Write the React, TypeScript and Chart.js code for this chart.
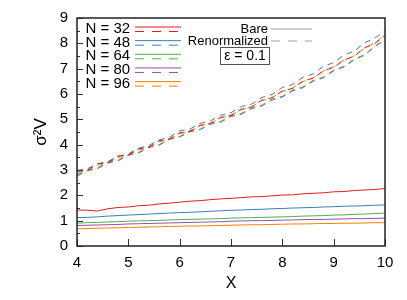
import React, { useEffect, useRef } from 'react';
import { Chart, registerables } from 'chart.js';

Chart.register(...registerables);

// ---- data ----
const X = [4.0, 4.2, 4.4, 4.6, 4.8, 5.0, 5.2, 5.4, 5.6, 5.8, 6.0, 6.2, 6.4, 6.6, 6.8, 7.0, 7.2, 7.4, 7.6, 7.8, 8.0, 8.2, 8.4, 8.6, 8.8, 9.0, 9.2, 9.4, 9.6, 9.8, 10.0];

const N_LABELS = ['N = 32', 'N = 48', 'N = 64', 'N = 80', 'N = 96'];
const COLORS = ['#e41a1c', '#377eb8', '#4daf4a', '#984ea3', '#ff7f00'];

// Bare (solid)
const BARE_32 = [1.42, 1.41, 1.38, 1.47, 1.52, 1.54, 1.59, 1.61, 1.66, 1.69, 1.73, 1.77, 1.79, 1.83, 1.86, 1.88, 1.91, 1.94, 1.95, 1.98, 2.01, 2.02, 2.06, 2.08, 2.10, 2.14, 2.15, 2.19, 2.21, 2.23, 2.27];
const BARE_48 = [1.12, 1.13, 1.15, 1.18, 1.20, 1.22, 1.24, 1.26, 1.28, 1.30, 1.32, 1.33, 1.35, 1.37, 1.39, 1.41, 1.42, 1.44, 1.45, 1.47, 1.48, 1.50, 1.51, 1.52, 1.54, 1.55, 1.57, 1.58, 1.59, 1.61, 1.62];
const BARE_64 = [0.90, 0.92, 0.93, 0.95, 0.96, 0.98, 0.99, 1.00, 1.01, 1.03, 1.04, 1.05, 1.06, 1.07, 1.08, 1.10, 1.11, 1.12, 1.13, 1.14, 1.15, 1.16, 1.18, 1.19, 1.20, 1.22, 1.23, 1.25, 1.26, 1.28, 1.30];
const BARE_80 = [0.81, 0.82, 0.83, 0.84, 0.85, 0.87, 0.88, 0.89, 0.90, 0.91, 0.92, 0.93, 0.94, 0.95, 0.96, 0.98, 0.99, 1.00, 1.00, 1.01, 1.02, 1.03, 1.04, 1.05, 1.05, 1.06, 1.07, 1.08, 1.08, 1.09, 1.10];
const BARE_96 = [0.68, 0.69, 0.70, 0.71, 0.72, 0.73, 0.74, 0.75, 0.76, 0.77, 0.78, 0.79, 0.79, 0.80, 0.81, 0.82, 0.83, 0.84, 0.84, 0.85, 0.86, 0.87, 0.87, 0.88, 0.89, 0.89, 0.90, 0.90, 0.91, 0.92, 0.92];

// Renormalized (dashed)
const REN_32 = [2.95, 2.99, 3.25, 3.28, 3.55, 3.60, 3.84, 3.90, 4.16, 4.22, 4.47, 4.53, 4.77, 4.84, 5.08, 5.16, 5.40, 5.49, 5.76, 5.85, 6.12, 6.22, 6.51, 6.62, 6.92, 7.05, 7.34, 7.49, 7.82, 7.99, 8.32];
const REN_48 = [2.98, 3.05, 3.24, 3.34, 3.54, 3.64, 3.86, 3.97, 4.19, 4.30, 4.54, 4.62, 4.84, 4.94, 5.16, 5.26, 5.50, 5.60, 5.86, 5.98, 6.26, 6.37, 6.66, 6.79, 7.09, 7.24, 7.54, 7.69, 8.02, 8.20, 8.50];
const REN_64 = [2.80, 2.99, 3.08, 3.31, 3.38, 3.61, 3.69, 3.93, 4.00, 4.24, 4.32, 4.55, 4.61, 4.84, 4.92, 5.14, 5.23, 5.46, 5.56, 5.80, 5.91, 6.16, 6.28, 6.54, 6.67, 6.95, 7.09, 7.38, 7.55, 7.89, 8.15];
const REN_80 = [2.76, 2.97, 3.05, 3.28, 3.36, 3.58, 3.67, 3.89, 3.98, 4.21, 4.30, 4.51, 4.59, 4.81, 4.89, 5.11, 5.20, 5.42, 5.53, 5.76, 5.88, 6.12, 6.25, 6.50, 6.64, 6.91, 7.07, 7.35, 7.53, 7.87, 8.12];
const REN_96 = [2.87, 2.98, 3.18, 3.29, 3.48, 3.59, 3.79, 3.91, 4.11, 4.23, 4.43, 4.54, 4.74, 4.85, 5.05, 5.16, 5.38, 5.50, 5.73, 5.86, 6.10, 6.24, 6.49, 6.64, 6.91, 7.07, 7.34, 7.51, 7.81, 8.02, 8.35];

const BARE = [BARE_32, BARE_48, BARE_64, BARE_80, BARE_96];
const REN = [REN_32, REN_48, REN_64, REN_80, REN_96];

const X_TICKS = [4, 5, 6, 7, 8, 9, 10];
const Y_TICKS = [0, 1, 2, 3, 4, 5, 6, 7, 8, 9];
const STYLE_LABELS = ['Bare', 'Renormalized'];
const EPS_LABEL = 'ε = 0.1';
const X_TITLE = 'X';
const Y_TITLE = 'σ²V';

const FONT = '"Liberation Sans", Arial, sans-serif';
const DASH = [6, 5];

const decor = {
  id: 'decor',
  afterDatasetsDraw(chart: any) {
    const { ctx, chartArea: a, scales } = chart;
    const xs = scales.x;
    const ys = scales.y;
    ctx.save();
    // inward tick marks
    ctx.strokeStyle = '#333';
    ctx.lineWidth = 1;
    ctx.beginPath();
    X_TICKS.forEach((v) => {
      const px = Math.round(xs.getPixelForValue(v)) + 0.5;
      ctx.moveTo(px, a.bottom);
      ctx.lineTo(px, a.bottom - 7);
    });
    Y_TICKS.forEach((v) => {
      const py = Math.round(ys.getPixelForValue(v)) + 0.5;
      ctx.moveTo(a.left, py);
      ctx.lineTo(a.left + 6, py);
      if (v < 9) {
        const pm = Math.round(ys.getPixelForValue(v + 0.5)) + 0.5;
        ctx.moveTo(a.left, pm);
        ctx.lineTo(a.left + 3, pm);
      }
    });
    ctx.stroke();
    // frame
    ctx.strokeStyle = '#222';
    ctx.lineWidth = 1.5;
    ctx.strokeRect(a.left, a.top, a.right - a.left, a.bottom - a.top);

    // legend: N labels
    ctx.fillStyle = '#000';
    ctx.textBaseline = 'middle';
    N_LABELS.forEach((lab, i) => {
      const cy = a.top + 11 + 13.65 * i;
      ctx.font = `15px ${FONT}`;
      ctx.textAlign = 'left';
      ctx.fillText(lab, a.left + 8.5, cy);
      ctx.strokeStyle = COLORS[i];
      ctx.lineWidth = 1;
      ctx.setLineDash([]);
      ctx.beginPath();
      ctx.moveTo(a.left + 58, cy - 2);
      ctx.lineTo(a.left + 104, cy - 2);
      ctx.stroke();
      ctx.setLineDash([9, 8]);
      ctx.beginPath();
      ctx.moveTo(a.left + 58, cy + 2.5);
      ctx.lineTo(a.left + 104, cy + 2.5);
      ctx.stroke();
      ctx.setLineDash([]);
    });
    // Bare / Renormalized
    ctx.font = `13px ${FONT}`;
    ctx.textAlign = 'right';
    STYLE_LABELS.forEach((lab, i) => {
      const cy = a.top + 11 + 12 * i;
      ctx.fillStyle = '#000';
      ctx.fillText(lab, a.left + 191, cy);
      ctx.strokeStyle = '#a0a0a0';
      ctx.lineWidth = 1;
      ctx.setLineDash(i === 0 ? [] : [9, 8]);
      ctx.beginPath();
      ctx.moveTo(a.left + 194, cy);
      ctx.lineTo(a.left + 235, cy);
      ctx.stroke();
      ctx.setLineDash([]);
    });
    // epsilon box
    ctx.strokeStyle = '#555';
    ctx.lineWidth = 1;
    ctx.strokeRect(a.left + 143.5, a.top + 29.5, 49, 17);
    ctx.font = `14px ${FONT}`;
    ctx.textAlign = 'center';
    ctx.fillStyle = '#000';
    ctx.fillText(EPS_LABEL, a.left + 168, a.top + 38);
    ctx.restore();
  },
};

export default function App() {
  const ref = useRef<HTMLCanvasElement>(null);
  useEffect(() => {
    document.body.style.margin = '0';
    Chart.defaults.font.family = FONT;
    const datasets: any[] = [];
    BARE.forEach((s, i) => {
      datasets.push({
        label: N_LABELS[i] + ' ' + STYLE_LABELS[0],
        data: X.map((x, j) => ({ x, y: s[j] })),
        borderColor: COLORS[i],
        borderWidth: 1,
        pointRadius: 0,
        tension: 0,
        fill: false,
      });
    });
    REN.forEach((s, i) => {
      datasets.push({
        label: N_LABELS[i] + ' ' + STYLE_LABELS[1],
        data: X.map((x, j) => ({ x, y: s[j] })),
        borderColor: COLORS[i],
        borderWidth: 1,
        borderDash: DASH,
        pointRadius: 0,
        tension: 0,
        fill: false,
      });
    });
    const chart = new Chart(ref.current!, {
      type: 'line',
      data: { datasets },
      options: {
        responsive: false,
        animation: false,
        layout: { padding: { top: 15, right: 22, left: 0, bottom: 0 } },
        plugins: { legend: { display: false }, tooltip: { enabled: false } },
        scales: {
          x: {
            type: 'linear',
            min: 4,
            max: 10,
            afterFit: (s: any) => { s.height = 54; },
            afterBuildTicks: (s: any) => { s.ticks = X_TICKS.map((v) => ({ value: v })); },
            grid: { display: false, drawTicks: false },
            border: { display: false },
            ticks: { color: '#000', font: { size: 15 }, padding: 8 },
            title: { display: true, text: X_TITLE, color: '#000', font: { size: 16 }, padding: { top: 0, bottom: 7 } },
          },
          y: {
            type: 'linear',
            min: 0,
            max: 9,
            afterFit: (s: any) => { s.width = 77; },
            afterBuildTicks: (s: any) => { s.ticks = Y_TICKS.map((v) => ({ value: v })); },
            grid: { display: false, drawTicks: false },
            border: { display: false },
            ticks: { color: '#000', font: { size: 15 }, padding: 9 },
            title: { display: true, text: Y_TITLE, color: '#000', font: { size: 17 }, padding: { top: 31, bottom: 0 } },
          },
        },
      },
      plugins: [decor],
    });
    return () => chart.destroy();
  }, []);
  return (
    <div style={{ width: 407, height: 300 }}>
      <canvas ref={ref} width={407} height={300} style={{ display: 'block' }} />
    </div>
  );
}
